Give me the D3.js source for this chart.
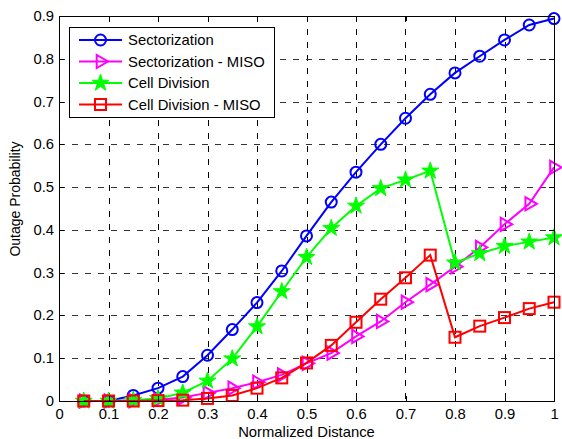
<!DOCTYPE html>
<html>
<head>
<meta charset="utf-8">
<script src="https://cdn.jsdelivr.net/npm/d3@7"></script>
<style>
  body { margin: 0; background: #fff; }
  text { font-family: Arial, "Liberation Sans", sans-serif; }
</style>
</head>
<body>
<svg id="chart"></svg>
<script>
// Outage probability vs normalized distance

const distance = [0.05, 0.1, 0.15, 0.2, 0.25, 0.3, 0.35, 0.4, 0.45, 0.5,
                  0.55, 0.6, 0.65, 0.7, 0.75, 0.8, 0.85, 0.9, 0.95, 1.0];

const sectorization = [0, 0, 0.013, 0.030, 0.057, 0.107, 0.167, 0.230, 0.304, 0.386,
                       0.465, 0.535, 0.600, 0.661, 0.717, 0.767, 0.806, 0.844, 0.879, 0.894];
const sectorizationMiso = [0, 0, 0.001, 0.003, 0.008, 0.019, 0.030, 0.044, 0.061, 0.088,
                           0.112, 0.151, 0.186, 0.231, 0.272, 0.314, 0.359, 0.413, 0.461, 0.546];
const cellDivision = [0, 0, 0.002, 0.006, 0.019, 0.047, 0.099, 0.174, 0.256, 0.336,
                      0.404, 0.456, 0.497, 0.517, 0.538, 0.323, 0.345, 0.362, 0.372, 0.382];
const cellDivisionMiso = [0, 0, 0, 0.001, 0.002, 0.006, 0.013, 0.030, 0.054, 0.089,
                          0.130, 0.184, 0.238, 0.288, 0.341, 0.149, 0.175, 0.195, 0.216, 0.231];

const xTicks = [0, 0.1, 0.2, 0.3, 0.4, 0.5, 0.6, 0.7, 0.8, 0.9, 1];
const yTicks = [0, 0.1, 0.2, 0.3, 0.4, 0.5, 0.6, 0.7, 0.8, 0.9];
const xTickLabels = ['0', '0.1', '0.2', '0.3', '0.4', '0.5', '0.6', '0.7', '0.8', '0.9', '1'];
const yTickLabels = ['0', '0.1', '0.2', '0.3', '0.4', '0.5', '0.6', '0.7', '0.8', '0.9'];

const seriesNames = ['Sectorization', 'Sectorization - MISO', 'Cell Division', 'Cell Division - MISO'];
const seriesColors = ['#0000ff', '#ff00ff', '#00ff00', '#ff0000'];
const seriesMarkers = ['circle', 'triangle', 'star', 'square'];
const seriesValues = [sectorization, sectorizationMiso, cellDivision, cellDivisionMiso];

const width = 562;
const height = 439;
const margin = {top: 16, right: 8, bottom: 38, left: 59};
const fs = 14;
const stretch = 1.06;

const svg = d3.select('#chart')
    .attr('width', width)
    .attr('height', height);

svg.append('rect').attr('width', width).attr('height', height).attr('fill', '#fff');

const x = d3.scaleLinear().domain([0, 1]).range([margin.left, width - margin.right]);
const y = d3.scaleLinear().domain([0, 0.9]).range([height - margin.bottom, margin.top]);

const g = svg.append('g');

// grid
g.selectAll('.vgrid')
    .data(xTicks.slice(1, -1))
    .enter().append('line')
    .attr('x1', d => Math.round(x(d)) + 0.5).attr('x2', d => Math.round(x(d)) + 0.5)
    .attr('y1', y(0.9)).attr('y2', y(0))
    .attr('stroke', '#000').attr('stroke-width', 1)
    .attr('stroke-dasharray', '6,7')
    .attr('shape-rendering', 'crispEdges');

g.selectAll('.hgrid')
    .data(yTicks.slice(1, -1))
    .enter().append('line')
    .attr('y1', d => Math.round(y(d)) + 0.5).attr('y2', d => Math.round(y(d)) + 0.5)
    .attr('x1', x(0)).attr('x2', x(1))
    .attr('stroke', '#333').attr('stroke-width', 1)
    .attr('stroke-dasharray', '6,7')
    .attr('shape-rendering', 'crispEdges');

// axes (matlab style, ticks inside on all sides)
const xAxisB = d3.axisBottom(x).tickValues(xTicks).tickSizeInner(-5).tickSizeOuter(0)
    .tickPadding(8).tickFormat((d, i) => xTickLabels[i]);
const xAxisT = d3.axisTop(x).tickValues(xTicks).tickSizeInner(-5).tickSizeOuter(0).tickFormat('');
const yAxisL = d3.axisLeft(y).tickValues(yTicks).tickSizeInner(-5).tickSizeOuter(0)
    .tickPadding(5).tickFormat((d, i) => yTickLabels[i]);
const yAxisR = d3.axisRight(y).tickValues(yTicks).tickSizeInner(-5).tickSizeOuter(0).tickFormat('');

function styleAxis(sel) {
    sel.selectAll('path,line').attr('stroke', '#000').attr('shape-rendering', 'crispEdges');
    sel.selectAll('text').attr('font-size', fs).attr('fill', '#000')
        .attr('font-family', 'Arial, "Liberation Sans", sans-serif')
        .attr('transform', `scale(${stretch},1)`);
}

svg.append('g').attr('transform', `translate(0,${y(0)})`).call(xAxisB).call(styleAxis);
svg.append('g').attr('transform', `translate(0,${y(0.9)})`).call(xAxisT).call(styleAxis);
const yl = svg.append('g').attr('transform', `translate(${x(0)},0)`).call(yAxisL).call(styleAxis);
yl.selectAll('text').attr('x', -5 / stretch);
svg.append('g').attr('transform', `translate(${x(1)},0)`).call(yAxisR).call(styleAxis);

// axis labels
svg.append('text')
    .attr('transform', `translate(${(x(0) + x(1)) / 2},437) scale(${stretch},1)`)
    .attr('text-anchor', 'middle').attr('font-size', fs)
    .text('Normalized Distance');

svg.append('text')
    .attr('transform', `translate(20,199) rotate(-90)`)
    .attr('text-anchor', 'middle').attr('font-size', fs)
    .text('Outage Probability');

// markers
function drawMarker(sel, type, color) {
    if (type === 'circle') {
        sel.append('circle').attr('r', 5.5)
            .attr('fill', 'none').attr('stroke', color).attr('stroke-width', 2);
    } else if (type === 'triangle') {
        sel.append('path')
            .attr('d', d3.symbol(d3.symbolTriangle, 75)())
            .attr('transform', 'rotate(90)')
            .attr('fill', 'none').attr('stroke', color).attr('stroke-width', 2);
    } else if (type === 'star') {
        sel.append('path')
            .attr('d', d3.symbol(d3.symbolStar, 90)())
            .attr('fill', color).attr('stroke', color).attr('stroke-width', 1);
    } else {
        sel.append('rect').attr('x', -5.5).attr('y', -5.5).attr('width', 11).attr('height', 11)
            .attr('fill', 'none').attr('stroke', color).attr('stroke-width', 2);
    }
}

const line = d3.line().x(d => x(d[0])).y(d => y(d[1]));

seriesValues.forEach((vals, i) => {
    const pts = distance.map((d, j) => [d, vals[j]]);
    g.append('path')
        .datum(pts)
        .attr('d', line)
        .attr('fill', 'none')
        .attr('stroke', seriesColors[i])
        .attr('stroke-width', 2);
    g.selectAll('.m' + i)
        .data(pts)
        .enter().append('g')
        .attr('transform', d => `translate(${x(d[0])},${y(d[1])})`)
        .each(function() { drawMarker(d3.select(this), seriesMarkers[i], seriesColors[i]); });
});

// legend
const legend = svg.append('g').attr('transform', 'translate(69,27)');
legend.append('rect')
    .attr('x', 0.5).attr('y', 0.5).attr('width', 205).attr('height', 90)
    .attr('fill', '#fff').attr('stroke', '#000').attr('stroke-width', 1);

seriesNames.forEach((name, i) => {
    const ly = 13 + i * 21.5;
    const item = legend.append('g');
    item.append('line')
        .attr('x1', 10).attr('x2', 53).attr('y1', ly).attr('y2', ly)
        .attr('stroke', seriesColors[i]).attr('stroke-width', 2);
    const m = item.append('g').attr('transform', `translate(31.5,${ly})`);
    drawMarker(m, seriesMarkers[i], seriesColors[i]);
    item.append('text')
        .attr('transform', `translate(59,${ly + 5}) scale(${stretch},1)`)
        .attr('font-size', fs)
        .text(name);
});
</script>
</body>
</html>
